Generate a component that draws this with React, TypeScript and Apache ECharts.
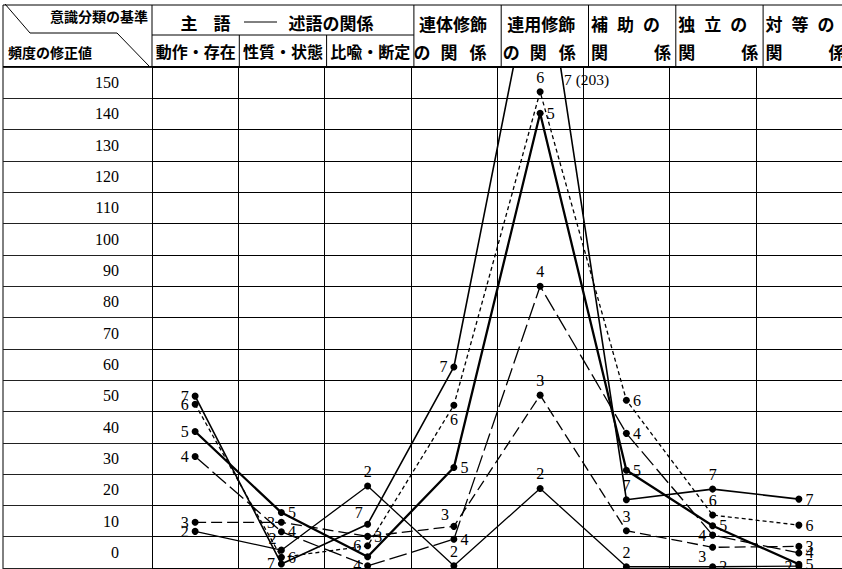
import React, { useEffect, useRef } from "react";
import * as echarts from "echarts";

// ---- data ----
const categories = [
  "動作・存在",
  "性質・状態",
  "比喩・断定",
  "連体修飾の関係",
  "連用修飾の関係",
  "補助の関係",
  "独立の関係",
  "対等の関係",
];
const seriesNames = ["2", "3", "4", "5", "6", "7"];
const values2 = [11.7, 5.7, 26.2, 0.7, 25.4, 0.4, 0.4, 0.6];
const values3 = [14.6, 14.6, 10.1, 13.3, 55.2, 11.9, 6.6, 6.9];
const values4 = [35.6, 11.6, 0.7, 9.2, 90, 43, 10.5, 4.8];
const values5 = [43.6, 17.7, 3.6, 32.1, 145.2, 31.2, 13.5, 1.2];
const values6 = [52.3, 3.4, 7.1, 52, 152.1, 53.6, 16.9, 13.7];
const values7 = [54.9, 1.3, 14.0, 64.2, 203, 21.8, 25.2, 22];
const yTickMax = 150;
const yTickStep = 10;
const offChartNote = "7 (203)";

// ---- styles (kept apart from the data) ----
const labelPos: Record<string, (string | null)[]> = {
  "2": ["left", "tl", "top", "top", "top", "top", "right", "left"],
  "3": ["left", "left", "right", "tl", "top", "top", "bl", "right"],
  "4": ["left", "right", "left", "right", "top", "right", "left", "right"],
  "5": ["left", "right", null, "right", "right", "right", "right", "right"],
  "6": ["left", "right", "left", "bottom", "top", "right", "top", "right"],
  "7": ["left", "left", "tl", "left", null, "top", "top", "right"],
};
const lineStyles: Record<string, any> = {
  "2": { width: 1.3, type: "solid" },
  "3": { width: 1.3, type: [11, 5] },
  "4": { width: 1.3, type: [18, 5] },
  "5": { width: 2.3, type: "solid" },
  "6": { width: 1.3, type: [4, 3] },
  "7": { width: 1.6, type: "solid" },
};
const allValues: Record<string, number[]> = {
  "2": values2,
  "3": values3,
  "4": values4,
  "5": values5,
  "6": values6,
  "7": values7,
};

const SERIF = "'Liberation Serif', 'DejaVu Serif', serif";
const JP = "'Noto Sans CJK JP', 'Noto Sans CJK SC', sans-serif";

function labelFor(pos: string | null, name: string) {
  if (!pos) return { show: false };
  const base: any = {
    show: true,
    formatter: name,
    fontFamily: SERIF,
    fontSize: 16,
    color: "#000",
    distance: 3,
  };
  if (pos === "tl") return { ...base, position: "top", offset: [-9, 3] };
  if (pos === "bl") return { ...base, position: "left", offset: [0, 9] };
  return { ...base, position: pos };
}

function txt(text: string, x: number, y: number, size: number, align = "center", weight: any = "bold", family = JP) {
  return {
    type: "text",
    x,
    y,
    silent: true,
    style: {
      text,
      fill: "#000",
      font: `${weight} ${size}px ${family}`,
      textAlign: align,
      align,
      textVerticalAlign: "middle",
      verticalAlign: "middle",
    },
  };
}
function ln(x1: number, y1: number, x2: number, y2: number, w = 1) {
  return {
    type: "line",
    silent: true,
    shape: { x1, y1, x2, y2 },
    style: { stroke: "#000", lineWidth: w },
  };
}

export default function App() {
  const ref = useRef<HTMLDivElement>(null);
  useEffect(() => {
    if (!ref.current) return;
    const chart = echarts.init(ref.current, undefined, { renderer: "svg" });

    const plotLeft = 152;
    const plotTop = 67;
    const plotHeight = 501;
    const colW = 87.3;
    const plotWidth = colW * categories.length;
    const yMax = 160;
    const unit = plotHeight / yMax;

    const colBounds = categories.map((_, i) => plotLeft + i * colW);

    const header: any[] = [
      ln(3, 5, 842, 5),
      ln(3, 5, 3, 569),
      ln(3, 66.5, 842, 66.5),
      ln(5, 4, 30, 33),
      ln(30, 33, 117, 33),
      ln(117, 33, 149, 66),
      ln(plotLeft, 35, colBounds[3], 35),
      ln(plotLeft, 5, plotLeft, 67),
      ln(colBounds[1], 35, colBounds[1], 67),
      ln(colBounds[2], 35, colBounds[2], 67),
      ...colBounds.slice(3).map((x) => ln(x, 5, x, 67)),
      txt("意識分類の基準", 148, 16, 14, "right"),
      txt("頻度の修正値", 8, 52, 14, "left"),
      txt("主", 189, 22, 17),
      txt("語", 222, 22, 17),
      ln(244, 22, 277, 22, 1),
      txt("述語の関係", 331, 22, 17),
      txt("動作・存在", colBounds[0] + colW / 2, 51, 16),
      txt("性質・状態", colBounds[1] + colW / 2, 51, 16),
      txt("比喩・断定", colBounds[2] + colW / 2, 51, 16),
      txt("連体修飾", colBounds[3] + 39, 23, 17),
      txt("の", colBounds[3] + 8, 51, 17),
      txt("関", colBounds[3] + 35, 51, 17),
      txt("係", colBounds[3] + 64, 51, 17),
      txt("連用修飾", colBounds[4] + 40, 23, 17),
      txt("の", colBounds[4] + 10, 51, 17),
      txt("関", colBounds[4] + 37, 51, 17),
      txt("係", colBounds[4] + 66, 51, 17),
    ];
    const threeCols = [
      ["補", "助"],
      ["独", "立"],
      ["対", "等"],
    ];
    threeCols.forEach((pair, i) => {
      const x0 = colBounds[5 + i];
      header.push(txt(pair[0], x0 + 11, 23, 17));
      header.push(txt(pair[1], x0 + 37, 23, 17));
      header.push(txt("の", x0 + 63, 23, 17));
      header.push(txt("関", x0 + 11, 51, 17));
      header.push(txt("係", x0 + 74, 51, 17));
    });
    header.push(txt(offChartNote, 564, 79, 15.5, "left", "normal", SERIF));

    const series = seriesNames.map((name) => ({
      type: "line",
      name,
      xAxisIndex: 0,
      yAxisIndex: 0,
      data: allValues[name].map((v, i) => ({
        value: v,
        label: labelFor(labelPos[name][i], name),
      })),
      symbol: "circle",
      symbolSize: 7,
      showAllSymbol: true,
      clip: true,
      itemStyle: { color: "#000" },
      lineStyle: { color: "#000", ...lineStyles[name] },
      emphasis: { disabled: true },
    }));

    const option: any = {
      animation: false,
      backgroundColor: "#fff",
      grid: [
        { left: plotLeft, top: plotTop, width: plotWidth, height: plotHeight },
        { left: 3, top: plotTop, width: plotLeft - 3, height: plotHeight },
        {
          left: plotLeft,
          top: plotTop + 5 * unit,
          width: plotWidth,
          height: yTickMax * unit,
        },
      ],
      xAxis: [
        {
          gridIndex: 0,
          type: "category",
          data: categories,
          boundaryGap: true,
          axisLabel: { show: false, interval: 0 },
          axisTick: { show: false, interval: 0 },
          axisLine: { show: false },
          splitLine: { show: true, interval: 0, lineStyle: { color: "#000", width: 1 } },
        },
        { gridIndex: 1, type: "value", show: false },
        { gridIndex: 2, type: "value", show: false },
      ],
      yAxis: [
        {
          gridIndex: 0,
          type: "value",
          min: 0,
          max: yMax,
          interval: yTickStep,
          axisLabel: { show: false },
          axisTick: { show: false },
          axisLine: { show: true, lineStyle: { color: "#000", width: 1 } },
          splitLine: { show: true, lineStyle: { color: "#000", width: 1 } },
        },
        {
          gridIndex: 1,
          type: "value",
          min: 0,
          max: yMax,
          interval: yTickStep,
          axisLabel: { show: false },
          axisTick: { show: false },
          axisLine: { show: false },
          splitLine: { show: true, lineStyle: { color: "#222", width: 1 } },
        },
        {
          gridIndex: 2,
          type: "value",
          min: 0,
          max: yTickMax,
          interval: yTickStep,
          axisLabel: {
            show: true,
            margin: 33,
            fontFamily: SERIF,
            fontSize: 16,
            color: "#000",
          },
          axisTick: { show: false },
          axisLine: { show: false },
          splitLine: { show: false },
        },
      ],
      graphic: header,
      series,
    };
    chart.setOption(option);
    return () => chart.dispose();
  }, []);
  return (
    <div
      ref={ref}
      style={{ position: "absolute", left: 0, top: 0, width: 842, height: 569 }}
    />
  );
}
